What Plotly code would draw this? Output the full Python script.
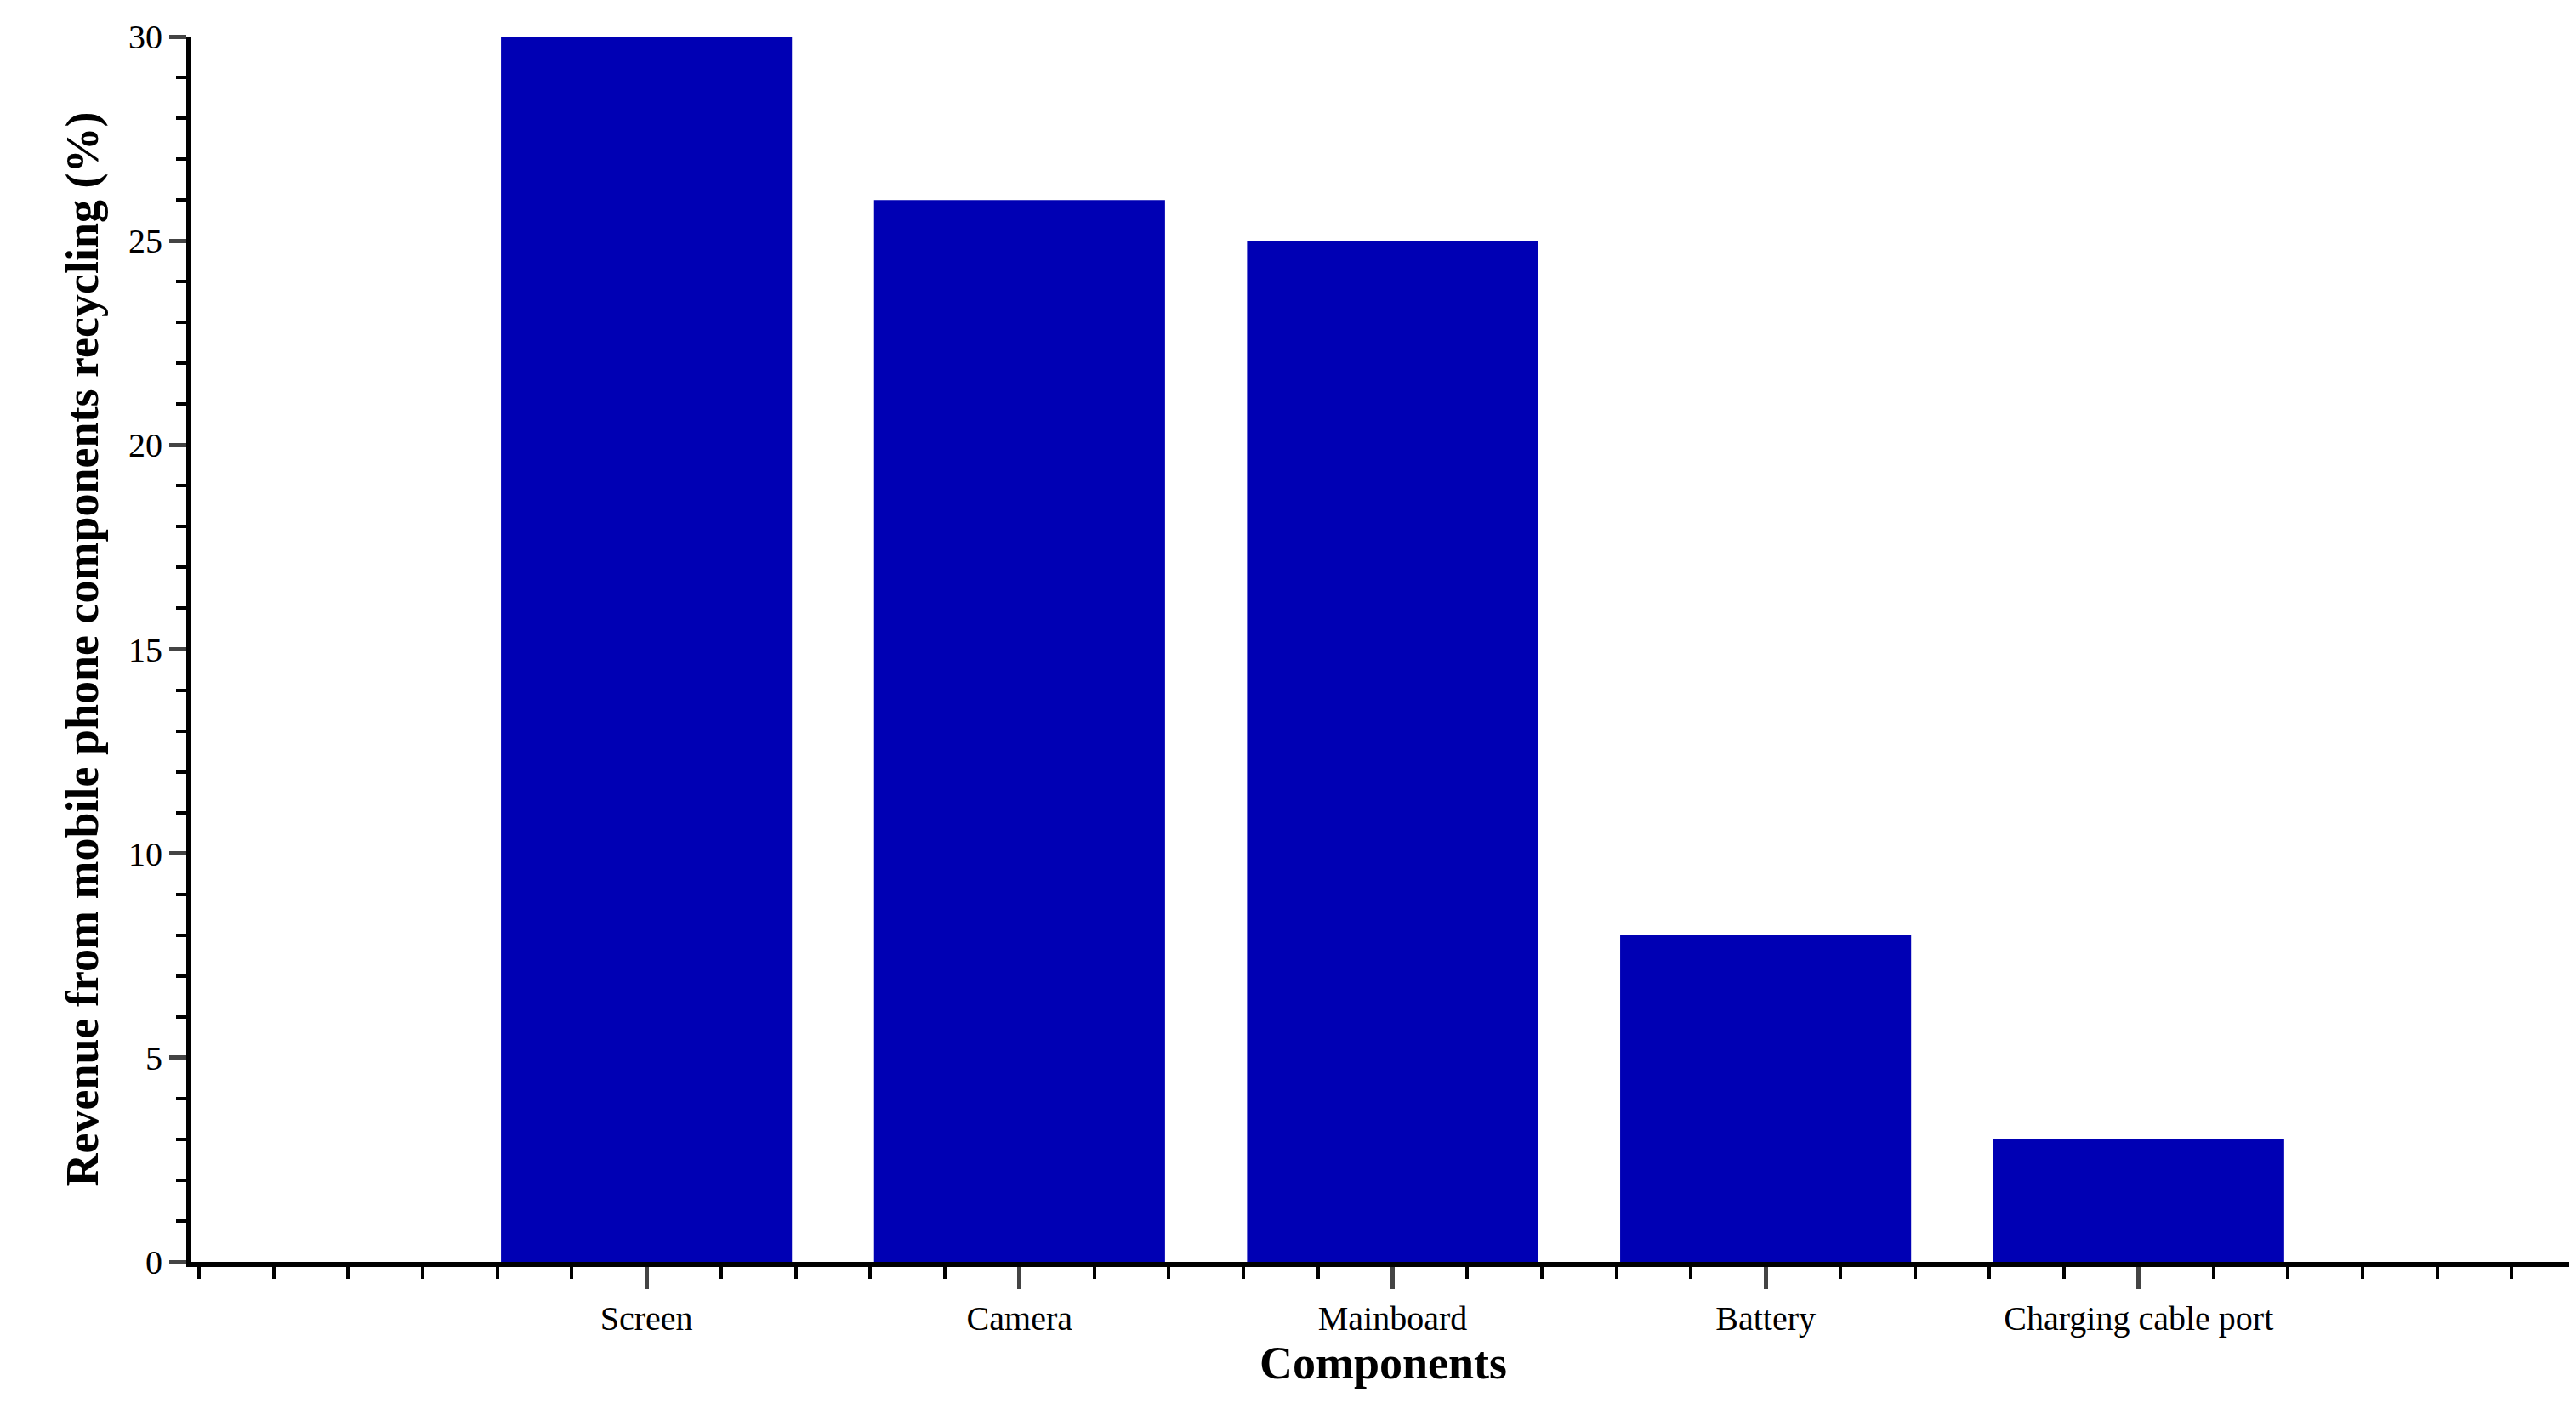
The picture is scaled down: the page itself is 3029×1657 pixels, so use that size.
import plotly.graph_objects as go

categories = ["Screen", "Camera", "Mainboard", "Battery", "Charging cable port"]
values = [30, 26, 25, 8, 3]
positions = [0, 1, 2, 3, 4]

fig = go.Figure(go.Bar(x=positions, y=values, width=0.78, marker=dict(color="#0000B4", line=dict(width=0))))

font = "Liberation Serif, Times New Roman, serif"
fig.update_layout(
    width=3029, height=1657, plot_bgcolor="white", paper_bgcolor="white",
    margin=dict(l=217, r=9, t=35, b=181), showlegend=False,
    font=dict(family=font, color="black"),
)
fig.update_xaxes(
    range=[-1.22, 5.17], tickvals=positions, ticktext=categories,
    tickfont=dict(size=40), ticks="outside", ticklen=26, tickwidth=5,
    minor=dict(dtick=0.2, tick0=0, ticks="outside", ticklen=14, tickwidth=4, tickcolor="black"),
    showline=True, linewidth=6, linecolor="black", showgrid=False, zeroline=False,
    title=dict(text="<b>Components</b>", font=dict(size=54), standoff=10),
)
fig.update_yaxes(
    range=[0, 30], dtick=5, tickfont=dict(size=40), ticks="outside", ticklen=20, tickwidth=5,
    minor=dict(dtick=1, ticks="outside", ticklen=12, tickwidth=4, tickcolor="black"),
    showline=True, linewidth=6, linecolor="black", showgrid=False, zeroline=False,
    title=dict(text="<b>Revenue from mobile phone components recycling (%)</b>", font=dict(size=54), standoff=20),
)
fig.write_html("out.html")
